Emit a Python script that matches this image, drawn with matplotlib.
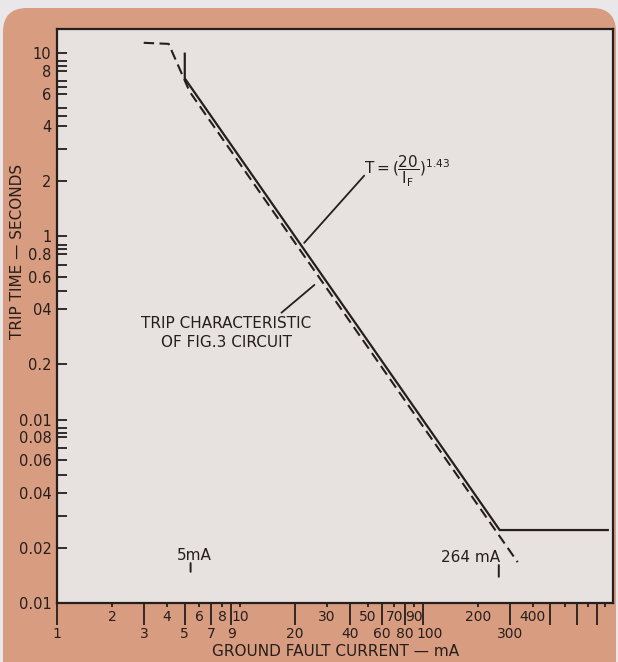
import matplotlib.pyplot as plt
from matplotlib.patches import FancyBboxPatch
from matplotlib.transforms import IdentityTransform, ScaledTranslation

# values (current in mA, trip time in s)
formula_current = [5, 5, 264, 1030]
formula_time = [9.9, 7.26, 0.025, 0.025]
circuit_current = [2.98, 4.08, 5.32, 331]
circuit_time = [11.35, 11.2, 6.14, 0.0167]

y_major = [10, 8, 6, 4, 2, 1, 0.8, 0.6, 0.4, 0.2, 0.1, 0.08, 0.06, 0.04, 0.02, 0.01]
y_labels = ['10', '8', '6', '4', '2', '1', '0.8', '0.6', '04', '0.2',
            '0.01', '0.08', '0.06', '0.04', '0.02', '0.01']
y_minor = [9, 8.5, 7, 6.5, 5, 4.5, 3, 0.9, 0.85, 0.7, 0.5,
           0.09, 0.085, 0.07, 0.05, 0.03]

x_long = [1, 3, 5, 7, 9, 20, 40, 60, 80, 100, 300, 500, 700, 900]
x_long_labels = ['1', '3', '5', '7', '9', '20', '40', '60', '80', '100', '300', '', '', '']
x_short = [2, 4, 6, 8, 10, 30, 50, 70, 90, 200, 400, 600, 800, 1000]
x_short_labels = ['2', '4', '6', '8', '10', '30', '50', '70', '90', '200', '400', '', '', '']

ink = '#261e1c'
peach = '#d89c80'
paper = '#e7e1df'

plt.rcParams['font.family'] = ['DejaVu Sans']
plt.rcParams['mathtext.default'] = 'regular'

fig = plt.figure(figsize=(6.18, 6.62), dpi=100, facecolor='#e9e7e9')

# peach card behind the chart, rounded at the top
card = FancyBboxPatch((3, -40), 613, 694, boxstyle='round,pad=0,rounding_size=24',
                      transform=IdentityTransform(), facecolor=peach, edgecolor='none',
                      zorder=-5)
fig.patches.append(card)

ax = fig.add_axes([57 / 618, 59 / 662, 556 / 618, 574 / 662])
ax.set_facecolor(paper)
ax.set_xscale('log')
ax.set_yscale('log')
ax.set_xlim(1, 1100)
ax.set_ylim(0.01, 13.5)

ax.plot(formula_current, formula_time, color=ink, lw=1.6, solid_joinstyle='miter')
ax.plot(circuit_current, circuit_time, color=ink, lw=1.5, linestyle=(0, (5, 2.6)))

for s in ax.spines.values():
    s.set_color(ink)
    s.set_linewidth(1.6)

# y axis: ticks drawn inward
ax.set_yticks(y_major, labels=y_labels)
ax.set_yticks(y_minor, minor=True)
ax.yaxis.set_minor_formatter(plt.NullFormatter())
ax.tick_params(axis='y', which='both', direction='in', length=7, width=1.3,
               color=ink, labelcolor=ink, labelsize=10.5, pad=4)

# x axis: long ticks with lower labels, short ticks with upper labels
ax.set_xticks(x_long, labels=x_long_labels)
ax.set_xticks(x_short, labels=x_short_labels, minor=True)
ax.tick_params(axis='x', which='major', direction='out', length=16, width=1.3,
               color=ink, labelcolor=ink, labelsize=10, pad=1)
ax.tick_params(axis='x', which='minor', direction='out', length=3, width=1.3,
               color=ink, labelcolor=ink, labelsize=10, pad=2)

# the hand-lettered "100" sits a little right of its tick
for lab in ax.get_xticklabels():
    if lab.get_text() == '100':
        lab.set_transform(lab.get_transform() + ScaledTranslation(5 / 72, 0, fig.dpi_scale_trans))

fig.text(18 / 618, 411 / 662, 'TRIP TIME — SECONDS', rotation=90, ha='center',
         va='center', fontsize=11, color=ink)
fig.text(336 / 618, 10 / 662, 'GROUND FAULT CURRENT — mA', ha='center', va='center',
         fontsize=11, color=ink)

# annotations
ax.text(47.9, 2.25, r'$T=(\dfrac{20}{I_F})^{1.43}$', ha='left', va='center',
        fontsize=11, color=ink)
ax.annotate('', xy=(22.5, 0.92), xytext=(47.9, 2.14),
            arrowprops=dict(arrowstyle='-', color=ink, lw=1.3, shrinkA=0, shrinkB=0))

ax.text(8.46, 0.297, 'TRIP CHARACTERISTIC\nOF FIG.3 CIRCUIT', ha='center', va='center',
        fontsize=11, color=ink, linespacing=1.3)
ax.annotate('', xy=(25.6, 0.543), xytext=(16.9, 0.383),
            arrowprops=dict(arrowstyle='-', color=ink, lw=1.3, shrinkA=0, shrinkB=0))

ax.text(5.66, 0.0182, '5mA', ha='center', va='center', fontsize=11, color=ink)
ax.annotate('', xy=(5.38, 0.0165), xytext=(5.38, 0.0148),
            arrowprops=dict(arrowstyle='-', color=ink, lw=1.4, shrinkA=0, shrinkB=0))
ax.text(184, 0.0178, '264 mA', ha='center', va='center', fontsize=11, color=ink)
ax.annotate('', xy=(261, 0.0161), xytext=(261, 0.0139),
            arrowprops=dict(arrowstyle='-', color=ink, lw=1.4, shrinkA=0, shrinkB=0))

fig.savefig('out.png', dpi=100, facecolor=fig.get_facecolor())
plt.close(fig)
